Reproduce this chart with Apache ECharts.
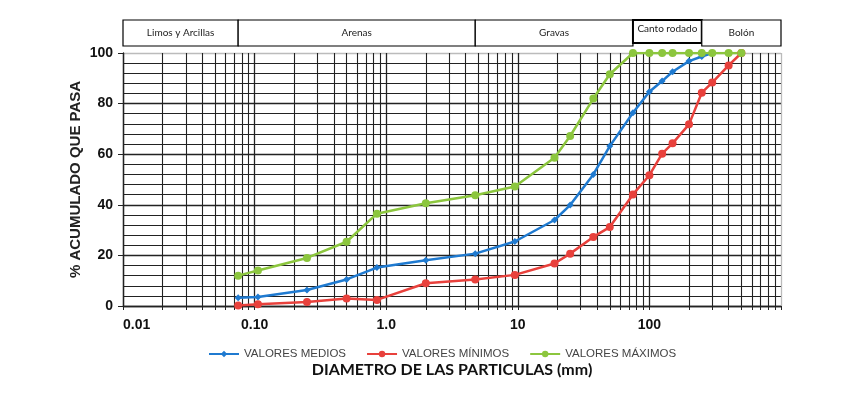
<!DOCTYPE html>
<html>
<head>
<meta charset="utf-8">
<script src="https://cdn.jsdelivr.net/npm/echarts@6/dist/echarts.min.js"></script>
<style>
  html, body { margin: 0; background: #fff; }
  #chart { width: 850px; height: 400px; }
</style>
</head>
<body>
<div id="chart"></div>
<script>
// tamices (mm) y % que pasa
const sieveSizes = [0.075, 0.106, 0.25, 0.5, 0.85, 2, 4.75, 9.5, 19, 25, 37.5, 50, 75, 100, 125, 150, 200, 250, 300, 400, 500];
const valoresMedios = [3.3, 3.6, 6.3, 10.5, 15.2, 18.1, 20.7, 25.5, 34, 39.9, 52, 63.2, 76.4, 84.7, 88.9, 92.6, 96.8, 98.6, 100];
const valoresMinimos = [0.2, 0.7, 1.6, 3.0, 2.4, 9, 10.5, 12.3, 16.8, 20.7, 27.3, 31.2, 44.1, 51.7, 60.2, 64.3, 71.8, 84.3, 88.3, 95.1, 100];
const valoresMaximos = [12, 14, 19, 25.4, 36.5, 40.6, 43.8, 47.2, 58.6, 67.2, 82, 91.6, 100, 100, 100, 100, 100, 100, 100, 100, 100];
const xTickLabels = ['0.01', '0.10', '1.0', '10', '100', ''];
const bandNames = ['Limos y Arcillas', 'Arenas', 'Gravas', 'Canto rodado', 'Bolón'];
const bandEdges = [0.01, 0.075, 4.75, 75, 250, 1000];

const BLUE = '#1f7ad0', RED = '#e8413c', GREEN = '#8cc63e';
const GRID = '#222';

const chartDom = document.getElementById('chart');
const myChart = echarts.init(chartDom);

const pairs = vals => vals.map((v, i) => [sieveSizes[i], v]);

const option = {
  animation: false,
  grid: { left: 123, right: 69, top: 53, bottom: 94, show: false },
  legend: {
    left: 203, top: 343,
    itemWidth: 30, itemHeight: 8, itemGap: 20,
    textStyle: { fontFamily: 'Liberation Sans', fontSize: 11.5, color: '#444' },
    data: ['VALORES MEDIOS', 'VALORES MÍNIMOS', 'VALORES MÁXIMOS']
  },
  xAxis: {
    type: 'log', logBase: 10, min: 0.01, max: 1000,
    name: 'DIAMETRO DE LAS PARTICULAS (mm)',
    nameLocation: 'middle', nameGap: 56, nameMoveOverlap: false,
    nameTextStyle: { fontFamily: 'Lato', fontWeight: 'bold', fontSize: 16, color: '#111' },
    axisLine: { show: true, lineStyle: { color: GRID, width: 1.3 } },
    axisTick: { show: true, length: 4, lineStyle: { color: GRID } },
    minorTick: { show: true, splitNumber: 9, length: 4, lineStyle: { color: GRID } },
    splitLine: { show: true, lineStyle: { color: [GRID, GRID, GRID, GRID, GRID, '#bbb'], width: 1.3 } },
    minorSplitLine: { show: true, lineStyle: { color: GRID, width: 1.1 } },
    axisLabel: {
      fontFamily: 'Liberation Sans', fontWeight: 'bold', fontSize: 14, color: '#111', margin: 12,
      alignMinLabel: 'left',
      formatter: v => xTickLabels[Math.round(Math.log10(v)) + 2]
    }
  },
  yAxis: {
    type: 'value', min: 0, max: 100, interval: 20,
    name: '% ACUMULADO QUE PASA',
    nameLocation: 'middle', nameGap: 40, nameMoveOverlap: false,
    nameTextStyle: { fontFamily: 'Liberation Sans', fontWeight: 'bold', fontSize: 15, color: '#222' },
    axisLine: { show: true, lineStyle: { color: GRID, width: 1.3 } },
    axisTick: { show: true, length: 5, lineStyle: { color: GRID } },
    minorTick: { show: false, splitNumber: 5 },
    splitLine: { show: true, lineStyle: { color: [GRID, GRID, GRID, GRID, GRID, '#bbb'], width: 1.3 } },
    minorSplitLine: { show: true, lineStyle: { color: GRID, width: 1.1 } },
    axisLabel: { fontFamily: 'Liberation Sans', fontWeight: 'bold', fontSize: 14, color: '#111', margin: 10 }
  },
  series: [
    {
      name: 'VALORES MEDIOS', type: 'line', data: pairs(valoresMedios),
      symbol: 'diamond', symbolSize: 7,
      lineStyle: { width: 2.5, color: BLUE }, itemStyle: { color: BLUE }
    },
    {
      name: 'VALORES MÍNIMOS', type: 'line', data: pairs(valoresMinimos),
      symbol: 'circle', symbolSize: 8,
      lineStyle: { width: 2.5, color: RED }, itemStyle: { color: RED }
    },
    {
      name: 'VALORES MÁXIMOS', type: 'line', data: pairs(valoresMaximos),
      symbol: 'circle', symbolSize: 8,
      lineStyle: { width: 2.5, color: GREEN }, itemStyle: { color: GREEN }
    }
  ]
};
myChart.setOption(option);

// franja superior con la clasificacion por tamanos
const px = v => myChart.convertToPixel({ xAxisIndex: 0 }, v);
const bands = bandNames.map((name, i) => {
  const x0 = px(bandEdges[i]), x1 = px(bandEdges[i + 1]);
  const thick = name === 'Canto rodado';
  return {
    type: 'group',
    z: thick ? 20 : 10,
    children: [
      {
        type: 'rect',
        shape: { x: x0, y: 20, width: x1 - x0, height: thick ? 23 : 26 },
        style: { fill: '#fff', stroke: '#000', lineWidth: thick ? 2 : 1.2 }
      },
      {
        type: 'text', x: (x0 + x1) / 2, y: thick ? 29 : 33,
        style: { text: name, align: 'center', verticalAlign: 'middle', font: '10px Lato', fill: '#222' }
      }
    ]
  };
});
myChart.setOption({ graphic: bands });
</script>
</body>
</html>
